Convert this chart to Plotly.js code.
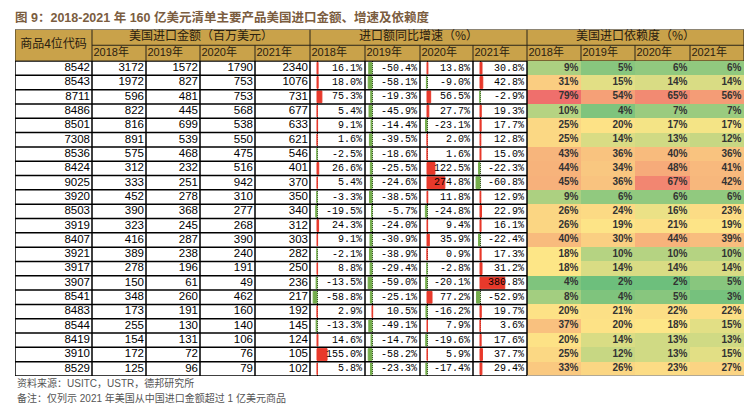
<!DOCTYPE html>
<html><head><meta charset="utf-8">
<script src="https://cdn.plot.ly/plotly-3.0.1.min.js"></script>
<style>html,body{margin:0;padding:0;background:#fff}#chart{width:754px;height:414px}</style>
</head><body><div id="chart"></div>
<script>
// ---------- data ----------
const codes   = ['8542','8543','8711','8486','8501','7308','8536','8424','9025','3920','8503','3919','8407','3921','3917','3907','8541','8483','8544','8419','3910','8529'];
const imp2018 = [3172,1972,596,822,816,891,575,312,333,452,390,323,416,389,278,150,348,173,255,154,172,125];
const imp2019 = [1572,827,481,445,699,539,468,232,251,278,368,245,287,238,196,61,260,191,130,131,72,96];
const imp2020 = [1790,753,753,568,538,550,475,516,942,310,277,268,390,240,191,49,462,160,140,106,76,79];
const imp2021 = [2340,1076,731,677,633,621,546,401,370,350,340,312,303,282,250,236,217,192,145,124,105,102];
const gr2018  = [16.1,18.0,75.3,5.4,9.1,1.6,-2.5,26.6,5.4,-3.3,-19.5,24.3,9.1,-2.1,8.8,-13.5,-58.8,2.9,-13.3,14.6,155.0,5.8];
const gr2019  = [-50.4,-58.1,-19.3,-45.9,-14.4,-39.5,-18.6,-25.5,-24.6,-38.5,-5.7,-24.0,-30.9,-38.9,-29.4,-59.0,-25.1,10.5,-49.1,-14.7,-58.2,-23.3];
const gr2020  = [13.8,-9.0,56.5,27.7,-23.1,2.0,1.6,122.5,274.8,11.8,-24.8,9.4,35.9,0.9,-2.8,-20.1,77.2,-16.2,7.9,-19.6,5.9,-17.4];
const gr2021  = [30.8,42.8,-2.9,19.3,17.7,12.8,15.0,-22.3,-60.8,12.9,22.9,16.1,-22.4,17.3,31.2,380.8,-52.9,19.7,3.6,17.6,37.7,29.4];
const dep2018 = [9,31,79,10,25,25,43,44,45,9,26,26,40,18,18,4,8,20,37,20,25,33];
const dep2019 = [5,15,54,4,20,14,36,34,36,6,24,19,30,10,14,2,4,21,20,14,12,26];
const dep2020 = [6,14,65,7,17,13,40,48,67,6,16,21,44,10,14,2,5,22,18,13,13,23];
const dep2021 = [6,14,56,7,17,12,36,41,42,6,23,19,39,10,14,5,3,22,15,13,15,27];
const years = ['2018年','2019年','2020年','2021年'];
const groupTitles = ['美国进口金额（百万美元）','进口额同比增速（%）','美国进口依赖度（%）'];
const codeHeader = '商品4位代码';
const titleText = '图 9：2018-2021 年 160 亿美元清单主要产品美国进口金额、增速及依赖度';
const sourceText = '资料来源：USITC，USTR，德邦研究所';
const noteText = '备注：仅列示 2021 年美国从中国进口金额超过 1 亿美元商品';

// ---------- layout geometry ----------
const W = 754, H = 414;
const tableLeft = 15;
const colWidths = [77,54,54,55,55,55,55,53,54,54,54,55,54];
const edges = [0];
colWidths.forEach(w => edges.push(edges[edges.length-1] + w));
const total = edges[edges.length-1];
const headTop = 29.5, dataTop = 61, dataBottom = 376;
const py = v => 1 - v / H;
const px = v => v / W;
const barScale = 0.065, axisOffset = 7;

const amounts = [imp2018, imp2019, imp2020, imp2021];
const growth = [gr2018, gr2019, gr2020, gr2021];
const deps = [dep2018, dep2019, dep2020, dep2021];
const nRows = codes.length;
const rowY = codes.map((_, i) => i + 0.5);

const numFont = {family: 'Liberation Sans, Arial, sans-serif', size: 11.5, color: '#000'};
const monoFont = {family: 'Liberation Mono, DejaVu Sans Mono, monospace', size: 10, color: '#000'};
const depFont = {family: 'Liberation Sans, Arial, sans-serif', size: 10, color: '#333', weight: 'bold'};
const headFont = {family: 'Liberation Sans, Noto Sans CJK SC, sans-serif', size: 11, color: '#2a2010'};
const groupFont = {family: 'Noto Sans CJK SC, sans-serif', size: 12, color: '#2a2010'};
const gold = '#c9a24a';

const traces = [];

// header background
traces.push({
  type: 'heatmap', xaxis: 'x', yaxis: 'y2',
  x: edges, y: [0, 1, 2],
  z: [colWidths.map(() => 1), colWidths.map(() => 1)],
  colorscale: [[0, gold], [1, gold]], showscale: false, hoverinfo: 'skip'
});
// header texts
traces.push({
  type: 'scatter', mode: 'text', xaxis: 'x', yaxis: 'y2',
  x: [(edges[0] + edges[1]) / 2], y: [1], text: [codeHeader],
  textposition: 'middle center', textfont: groupFont, hoverinfo: 'skip', cliponaxis: false
});
traces.push({
  type: 'scatter', mode: 'text', xaxis: 'x', yaxis: 'y2',
  x: [0, 1, 2].map(g => (edges[1 + 4*g] + edges[5 + 4*g]) / 2), y: [0.5, 0.5, 0.5],
  text: groupTitles, textposition: 'middle center', textfont: groupFont, hoverinfo: 'skip', cliponaxis: false
});
const yrX = [], yrT = [];
for (let c = 1; c <= 12; c++) { yrX.push(edges[c] + 1.5); yrT.push(years[(c - 1) % 4]); }
traces.push({
  type: 'scatter', mode: 'text', xaxis: 'x', yaxis: 'y2',
  x: yrX, y: yrX.map(() => 1.5), text: yrT,
  textposition: 'middle right', textfont: headFont, hoverinfo: 'skip', cliponaxis: false
});

// dependence heatmap
const depVals = [].concat(...deps);
const sorted = depVals.slice().sort((a, b) => a - b);
const zmin = sorted[0], zmax = sorted[sorted.length - 1];
const median = (sorted[sorted.length/2 - 1] + sorted[sorted.length/2]) / 2;
const midPos = (median - zmin) / (zmax - zmin);
traces.push({
  type: 'heatmap', xaxis: 'x', yaxis: 'y',
  x: edges.slice(9), y: codes.map((_, i) => i).concat([nRows]),
  z: codes.map((_, i) => deps.map(d => d[i])),
  zmin: zmin, zmax: zmax,
  colorscale: [[0, '#6dbf7c'], [midPos, '#fde687'], [1, '#ef6f6c']],
  showscale: false, hoverinfo: 'skip'
});

// code column and amount text
traces.push({
  type: 'scatter', mode: 'text', xaxis: 'x', yaxis: 'y',
  x: codes.map(() => edges[1] - 2), y: rowY, text: codes,
  textposition: 'middle left', textfont: numFont, hoverinfo: 'skip', cliponaxis: false
});
amounts.forEach((arr, j) => {
  traces.push({
    type: 'scatter', mode: 'text', xaxis: 'x', yaxis: 'y',
    x: arr.map(() => edges[2 + j] - 2), y: rowY, text: arr.map(String),
    textposition: 'middle left', textfont: numFont, hoverinfo: 'skip', cliponaxis: false
  });
});
deps.forEach((arr, j) => {
  traces.push({
    type: 'scatter', mode: 'text', xaxis: 'x', yaxis: 'y',
    x: arr.map(() => edges[10 + j] - 2.5), y: rowY, text: arr.map(v => v + '%'),
    textposition: 'middle left', textfont: depFont, hoverinfo: 'skip', cliponaxis: false
  });
});

// growth data bars + text on their own axes
const layoutAxes = {};
growth.forEach((arr, g) => {
  const c = 5 + g, w = colWidths[c];
  const axName = 'xaxis' + (g + 2), ref = 'x' + (g + 2);
  const r = [-axisOffset / barScale, (w - axisOffset) / barScale];
  layoutAxes[axName] = {
    domain: [px(tableLeft + edges[c]), px(tableLeft + edges[c + 1])],
    range: r, anchor: 'y', fixedrange: true,
    showticklabels: false, ticks: '', zeroline: false, showline: false,
    tickmode: 'array', tickvals: [0], showgrid: true,
    gridcolor: '#000', gridwidth: 1, griddash: '1px,1px'
  };
  const cols = arr.map(v => v >= 0 ? '#e8392b' : '#74ad4c');
  traces.push({
    type: 'bar', orientation: 'h', xaxis: ref, yaxis: 'y',
    x: arr, y: rowY, width: 0.82,
    marker: {color: cols, line: {color: cols, width: 1}}, hoverinfo: 'skip'
  });
  traces.push({
    type: 'scatter', mode: 'text', xaxis: ref, yaxis: 'y',
    x: arr.map(() => r[1] - 3 / barScale), y: rowY, text: arr.map(v => v.toFixed(1) + '%'),
    textposition: 'middle left', textfont: monoFont, hoverinfo: 'skip', cliponaxis: false
  });
});

// ---------- borders ----------
const shapes = [];
const line = (x0, x1, y0, y1, yref, color, width) =>
  shapes.push({type: 'line', xref: 'x', yref: yref, x0, x1, y0, y1, line: {color, width}});
const hc = '#2a2418';
line(edges[0], edges[13], 0, 0, 'y2', hc, 1);
line(edges[0], edges[13], 2, 2, 'y2', hc, 1);
line(edges[1], edges[13], 1, 1, 'y2', hc, 1);
[0, 1, 5, 9, 13].forEach(c => line(edges[c], edges[c], 0, 2, 'y2', hc, 1));
[2, 3, 4, 6, 7, 8, 10, 11, 12].forEach(c => line(edges[c], edges[c], 1, 2, 'y2', hc, 1));
for (let i = 0; i <= nRows; i++) line(edges[0], edges[9], i, i, 'y', '#000', 1.5);
for (let c = 0; c <= 9; c++) line(edges[c], edges[c], 0, nRows, 'y', '#000', 1.5);
line(edges[9], edges[13], nRows, nRows, 'y', '#9a9a9a', 1.5);

const hidden = {showgrid: false, zeroline: false, showticklabels: false, ticks: '', showline: false, fixedrange: true};
const layout = Object.assign({
  width: W, height: H,
  margin: {l: 0, r: 0, t: 0, b: 0},
  paper_bgcolor: '#fff', plot_bgcolor: 'rgba(0,0,0,0)',
  showlegend: false,
  title: {
    text: titleText, x: px(15), xanchor: 'left', y: py(18), yanchor: 'middle',
    font: {family: 'Liberation Sans, Noto Sans CJK SC, sans-serif', size: 12.5, color: '#7b5d3f', weight: 'bold'}
  },
  xaxis: Object.assign({domain: [px(tableLeft), px(tableLeft + total)], range: [0, total], anchor: 'y'}, hidden),
  yaxis: Object.assign({domain: [py(dataBottom), py(dataTop)], range: [nRows, 0], anchor: 'x'}, hidden),
  yaxis2: Object.assign({domain: [py(dataTop), py(headTop)], range: [2, 0], anchor: 'x'}, hidden),
  shapes: shapes,
  annotations: [
    {text: sourceText, xref: 'paper', yref: 'paper', x: px(15), y: py(383), xanchor: 'left', yanchor: 'middle',
     showarrow: false, font: {family: 'Liberation Sans, Noto Sans CJK SC, sans-serif', size: 10, color: '#555'}},
    {text: noteText, xref: 'paper', yref: 'paper', x: px(15), y: py(398), xanchor: 'left', yanchor: 'middle',
     showarrow: false, font: {family: 'Liberation Sans, Noto Sans CJK SC, sans-serif', size: 10, color: '#555'}}
  ]
}, layoutAxes);

Plotly.newPlot('chart', traces, layout, {staticPlot: true, displayModeBar: false});
</script>
</body></html>
